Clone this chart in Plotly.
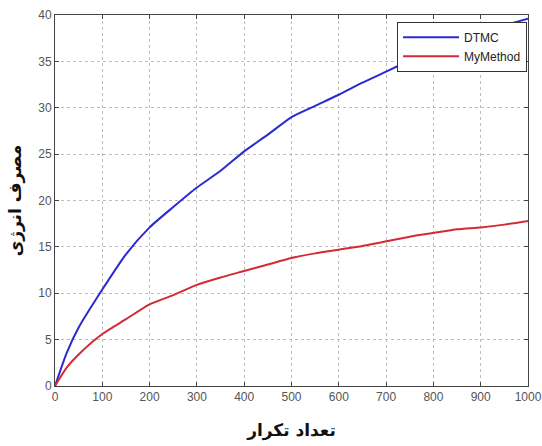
import plotly.graph_objects as go

x_vals = [0, 25, 50, 100, 150, 200, 250, 300, 350, 400, 450, 500, 550, 600, 650, 700, 750, 800, 850, 900, 950, 1000]
dtmc = [0, 3.6, 6.3, 10.4, 14.2, 17.1, 19.3, 21.4, 23.2, 25.3, 27.1, 29.0, 30.2, 31.4, 32.7, 33.9, 35.1, 36.3, 37.3, 38.2, 38.9, 39.6]
mymethod = [0, 2.0, 3.4, 5.6, 7.2, 8.8, 9.8, 10.9, 11.7, 12.4, 13.1, 13.8, 14.3, 14.7, 15.1, 15.6, 16.1, 16.5, 16.9, 17.1, 17.4, 17.8]

x_ticks = list(range(0, 1001, 100))
y_ticks = list(range(0, 41, 5))

fig = go.Figure()
fig.add_trace(go.Scatter(x=x_vals, y=dtmc, mode="lines", name="DTMC",
                         line=dict(color="#2a2ad0", width=2, shape="spline", smoothing=0.6)))
fig.add_trace(go.Scatter(x=x_vals, y=mymethod, mode="lines", name="MyMethod",
                         line=dict(color="#d42a35", width=2, shape="spline", smoothing=0.6)))

axis_common = dict(showgrid=True, gridcolor="#bdbdbd", griddash="dot", gridwidth=1,
                   showline=True, linecolor="#444", linewidth=1, mirror="ticks",
                   ticks="inside", ticklen=4, tickcolor="#444",
                   tickfont=dict(family="Liberation Sans, Arial", size=12, color="#555"),
                   zeroline=False, automargin=False, ticklabeloverflow="allow")

fig.update_layout(
    width=542, height=446,
    margin=dict(l=55, r=14, t=15, b=60),
    paper_bgcolor="white", plot_bgcolor="white",
    xaxis=dict(range=[0, 1000], tickvals=x_ticks, ticktext=[str(t) for t in x_ticks],
               title=dict(text="<b>تعداد تکرار</b>", font=dict(family="DejaVu Sans", size=17, color="#111"), standoff=20),
               **axis_common),
    yaxis=dict(range=[0, 40], tickvals=y_ticks, ticktext=[str(t) for t in y_ticks],
               title=dict(text="<b>مصرف انرژی</b>", font=dict(family="DejaVu Sans", size=17, color="#111"), standoff=12),
               **axis_common),
    legend=dict(x=0.998, y=0.982, xanchor="right", yanchor="top",
                bgcolor="white", bordercolor="#333", borderwidth=1,
                font=dict(family="Liberation Sans, Arial", size=12, color="#222"),
                itemwidth=56, tracegroupgap=0),
    showlegend=True,
)

fig.write_html(
    "out.html",
    config={"displayModeBar": False},
    post_script="document.body.style.margin='0';document.body.style.overflow='hidden';",
)
